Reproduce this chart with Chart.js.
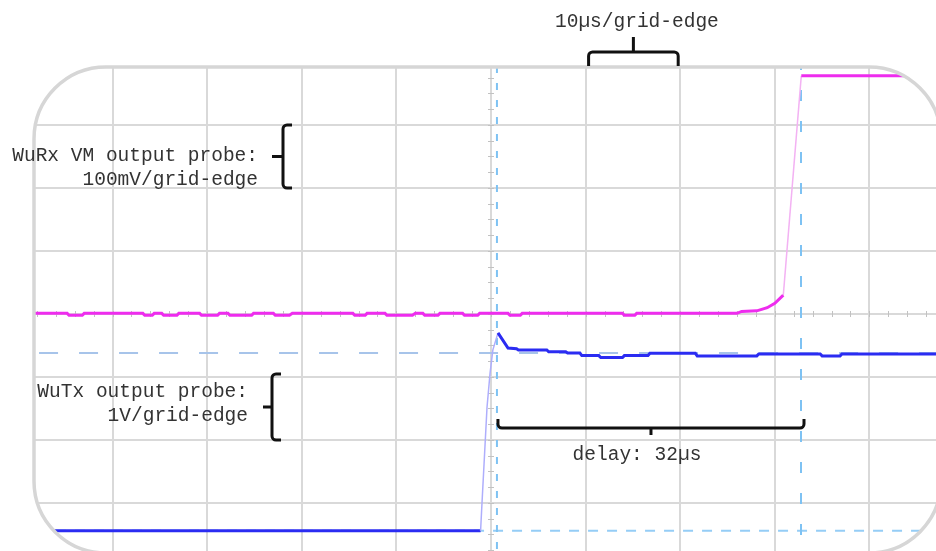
<!DOCTYPE html>
<html>
<head>
<meta charset="utf-8">
<script src="https://cdn.jsdelivr.net/npm/chart.js@4.4.1/dist/chart.umd.min.js"></script>
<style>
  html, body { margin: 0; padding: 0; background: #fff; overflow: hidden; }
  #caja { width: 936px; height: 551px; position: relative; }
</style>
</head>
<body>
<div id="caja"><canvas id="grafica"></canvas></div>
<script>
// tiempo en us (0 = linea central), nivel en divisiones de la rejilla
const wurxTime = [-52, -44.8, -44.6, -43.2, -43.0, -36.8, -36.6, -35.8, -35.6, -34.8, -34.6, -33.2, -33.0, -30.8,
    -30.6, -28.9, -28.7, -27.8, -27.6, -25.3, -25.1, -23.0, -22.8, -21.3, -21.0, -14.6, -14.4, -13.3, -13.1, -11.2,
    -11.0, -8.3, -8.0, -7.2, -7.0, -5.6, -5.4, -3.0, -2.8, -1.4, -1.2, 1.8, 2.0, 3.1, 3.3, 13.9, 14.1, 15.2, 15.4,
    26.0, 26.5, 28.1, 29.2, 30.0, 30.9, 32.8, 48];
const wurxLevel = [0.01, 0.01, -0.02, -0.02, 0.01, 0.01, -0.02, -0.02, 0.01, 0.01, -0.02, -0.02, 0.01, 0.01,
    -0.02, -0.02, 0.01, 0.01, -0.02, -0.02, 0.01, 0.01, -0.02, -0.02, 0.01, 0.01, -0.02, -0.02, 0.01, 0.01,
    -0.02, -0.02, 0.01, 0.01, -0.02, -0.02, 0.01, 0.01, -0.02, -0.02, 0.01, 0.01, -0.02, -0.02, 0.01, 0.01, -0.02, -0.02, 0.01,
    0.01, 0.04, 0.05, 0.10, 0.17, 0.30, 3.78, 3.78];

const wutxTime = [-52, -1.1, -0.95, -0.42, -0.1, 0.2, 0.74, 1.8, 2.7, 2.9, 5.9, 6.1, 7.9, 8.1, 9.4, 9.6, 11.4, 11.6,
    13.9, 14.1, 16.6, 16.8, 21.6, 21.8, 28.1, 28.3, 34.8, 35.0, 36.9, 37.1, 48];
const wutxLevel = [-3.44, -3.44, -3.0, -1.48, -0.94, -0.57, -0.30, -0.54, -0.55, -0.57, -0.57, -0.60, -0.60, -0.62, -0.62, -0.66, -0.66, -0.69,
    -0.69, -0.66, -0.66, -0.625, -0.625, -0.665, -0.665, -0.635, -0.635, -0.665, -0.665, -0.635, -0.635];

const cursorTimes = [0.63, 32.77];
const cursorLevels = [-0.62, -3.44];

const xGridTicks = [-50, -40, -30, -20, -10, 0, 10, 20, 30, 40];
const yGridTicks = [-3, -2, -1, 0, 1, 2, 3, 4];

const fuente = '19.5px "Liberation Mono", "DejaVu Sans Mono", monospace';
const marcoPantalla = { left: 34, top: 67, right: 941, bottom: 553, r: 72 };

function puntos(t, v) {
    return t.map(function (x, i) { return { x: x, y: v[i] }; });
}

// tramos muy rapidos se ven mas claros y finos
function rapido(ctx) {
    var dx = Math.abs(ctx.p1.x - ctx.p0.x);
    var dy = Math.abs(ctx.p1.y - ctx.p0.y);
    return dy > 3 * dx;
}

function marco(ctx) {
    var m = marcoPantalla;
    ctx.beginPath();
    ctx.moveTo(m.left + m.r, m.top);
    ctx.lineTo(m.right - m.r, m.top);
    ctx.arcTo(m.right, m.top, m.right, m.top + m.r, m.r);
    ctx.lineTo(m.right, m.bottom - m.r);
    ctx.arcTo(m.right, m.bottom, m.right - m.r, m.bottom, m.r);
    ctx.lineTo(m.left + m.r, m.bottom);
    ctx.arcTo(m.left, m.bottom, m.left, m.bottom - m.r, m.r);
    ctx.lineTo(m.left, m.top + m.r);
    ctx.arcTo(m.left, m.top, m.left + m.r, m.top, m.r);
    ctx.closePath();
}

function llaveH(ctx, x1, x2, yEnd, yBar, yTip) {
    var xm = (x1 + x2) / 2;
    ctx.beginPath();
    ctx.moveTo(x1, yEnd);
    ctx.arcTo(x1, yBar, xm, yBar, 4);
    ctx.arcTo(x2, yBar, x2, yEnd, 4);
    ctx.lineTo(x2, yEnd);
    ctx.moveTo(xm, yBar);
    ctx.lineTo(xm, yTip);
    ctx.stroke();
}

function llaveV(ctx, x, xEnd, y1, y2, xTip) {
    var ym = (y1 + y2) / 2;
    ctx.beginPath();
    ctx.moveTo(xEnd, y1);
    ctx.arcTo(x, y1, x, ym, 4);
    ctx.arcTo(x, y2, xEnd, y2, 4);
    ctx.lineTo(xEnd, y2);
    ctx.moveTo(x, ym);
    ctx.lineTo(xTip, ym);
    ctx.stroke();
}

const pantalla = {
    id: 'pantalla',
    beforeDraw: function (chart) {
        var ctx = chart.ctx;
        ctx.save();
        marco(ctx);
        ctx.clip();
    },
    beforeDatasetsDraw: function (chart) {
        // marcas pequenas sobre los ejes centrales
        var ctx = chart.ctx, sx = chart.scales.x, sy = chart.scales.y;
        var x0 = Math.round(sx.getPixelForValue(0)), y0 = Math.round(sy.getPixelForValue(0));
        ctx.save();
        ctx.strokeStyle = '#c2c2c2';
        ctx.lineWidth = 1;
        ctx.beginPath();
        for (var t = -50; t <= 48; t += 2) {
            var px = Math.round(sx.getPixelForValue(t)) + 0.5;
            ctx.moveTo(px, y0 - 3);
            ctx.lineTo(px, y0 + 3);
        }
        for (var d = -3.75; d <= 5; d += 0.25) {
            var py = Math.round(sy.getPixelForValue(d)) + 0.5;
            ctx.moveTo(x0 - 3, py);
            ctx.lineTo(x0 + 3, py);
        }
        ctx.stroke();
        ctx.restore();
    },
    afterDraw: function (chart) {
        var ctx = chart.ctx, sx = chart.scales.x, sy = chart.scales.y;
        ctx.restore();

        ctx.save();
        marco(ctx);
        ctx.strokeStyle = '#d6d6d6';
        ctx.lineWidth = 3.5;
        ctx.stroke();

        ctx.font = fuente;
        ctx.fillStyle = '#333';
        ctx.textBaseline = 'alphabetic';

        ctx.textAlign = 'center';
        ctx.fillText('10µs/grid-edge', (sx.getPixelForValue(10) + sx.getPixelForValue(20)) / 2 + 4, 27);
        ctx.fillText('delay: 32µs', (sx.getPixelForValue(cursorTimes[0]) + sx.getPixelForValue(cursorTimes[1])) / 2 - 12, 460);

        ctx.textAlign = 'right';
        ctx.fillText('WuRx VM output probe:', 258, 161);
        ctx.fillText('100mV/grid-edge', 258, 185);
        ctx.fillText('WuTx output probe:', 248, 397);
        ctx.fillText('1V/grid-edge', 248, 421);

        ctx.strokeStyle = '#111';
        ctx.lineWidth = 3;
        ctx.lineCap = 'butt';
        llaveH(ctx, sx.getPixelForValue(10) + 3, sx.getPixelForValue(20) - 2, 66, 52, 37);
        llaveH(ctx, sx.getPixelForValue(cursorTimes[0]) + 1, sx.getPixelForValue(cursorTimes[1]) + 3, 419, 428, 435);
        llaveV(ctx, 283, 292, sy.getPixelForValue(3), sy.getPixelForValue(2), 272);
        llaveV(ctx, 272, 281, sy.getPixelForValue(-1) - 3, sy.getPixelForValue(-2), 263);
        ctx.restore();
    }
};

function lineaCursor(p, color, dash) {
    return {
        data: p,
        borderColor: color,
        borderWidth: 2,
        borderDash: dash,
        pointRadius: 0,
        fill: false,
        order: 2
    };
}

var ctxG = document.getElementById('grafica').getContext('2d');
var grafica = new Chart(ctxG, {
    type: 'line',
    data: {
        datasets: [
            lineaCursor([{ x: cursorTimes[0], y: -4 }, { x: cursorTimes[0], y: 5 }], '#7ec2f3', [7, 10]),
            lineaCursor([{ x: cursorTimes[1], y: -4 }, { x: cursorTimes[1], y: 5 }], '#7ec2f3', [11, 20]),
            lineaCursor([{ x: -52, y: cursorLevels[0] }, { x: 48, y: cursorLevels[0] }], '#a7c4ea', [19, 21]),
            lineaCursor([{ x: -52, y: cursorLevels[1] }, { x: 48, y: cursorLevels[1] }], '#95cdf6', [10, 9]),
            {
                label: 'WuRx VM output',
                data: puntos(wurxTime, wurxLevel),
                borderColor: '#ee2cee',
                borderWidth: 3,
                pointRadius: 0,
                tension: 0,
                order: 1,
                segment: {
                    borderColor: function (c) { return rapido(c) ? '#f3b2f3' : undefined; },
                    borderWidth: function (c) { return rapido(c) ? 1.5 : undefined; }
                }
            },
            {
                label: 'WuTx output',
                data: puntos(wutxTime, wutxLevel),
                borderColor: '#2b2cf2',
                borderWidth: 3,
                pointRadius: 0,
                tension: 0,
                order: 1,
                segment: {
                    borderColor: function (c) { return rapido(c) ? '#aeaefc' : undefined; },
                    borderWidth: function (c) { return rapido(c) ? 1.5 : undefined; }
                }
            }
        ]
    },
    options: {
        responsive: true,
        maintainAspectRatio: false,
        animation: false,
        events: [],
        layout: { padding: 0 },
        plugins: {
            legend: { display: false },
            tooltip: { enabled: false }
        },
        scales: {
            x: {
                type: 'linear',
                min: -51.9,
                max: 47.04,
                afterBuildTicks: function (axis) {
                    axis.ticks = xGridTicks.map(function (v) { return { value: v }; });
                },
                ticks: { display: false },
                border: { display: false },
                grid: { color: '#d9d9d9', lineWidth: 2, drawTicks: false }
            },
            y: {
                type: 'linear',
                min: -3.762,
                max: 4.984,
                afterBuildTicks: function (axis) {
                    axis.ticks = yGridTicks.map(function (v) { return { value: v }; });
                },
                ticks: { display: false },
                border: { display: false },
                grid: { color: '#d9d9d9', lineWidth: 2, drawTicks: false }
            }
        }
    },
    plugins: [pantalla]
});
</script>
</body>
</html>
